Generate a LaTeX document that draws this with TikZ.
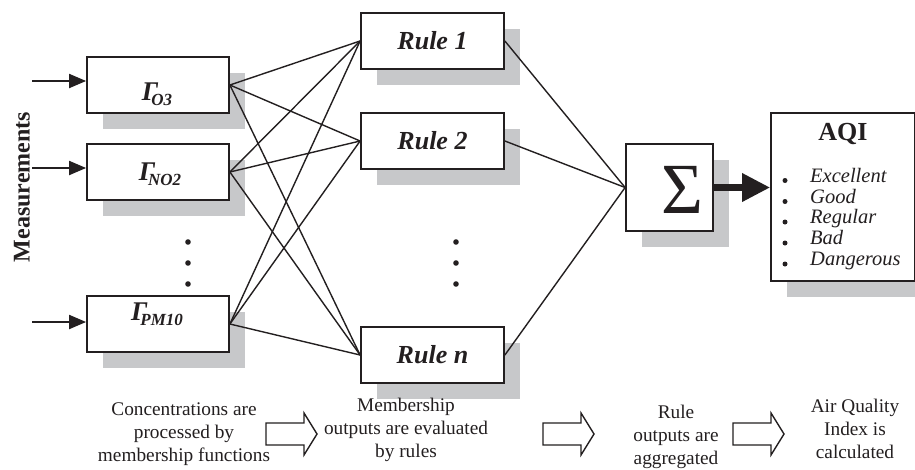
\documentclass[tikz,border=0pt]{standalone}
\usepackage{fontspec}
\setmainfont{Liberation Serif}
\usetikzlibrary{arrows.meta,calc,shadows}
\definecolor{ink}{RGB}{35,31,32}
\definecolor{shadowgray}{RGB}{199,200,202}
\newcommand{\GSub}[1]{{\fontsize{27pt}{27pt}\selectfont\bfseries\itshape Γ}\kern-7pt{\fontsize{17pt}{17pt}\selectfont\bfseries\itshape\raisebox{-5pt}{#1}}}
\tikzset{
  shadowed/.style={drop shadow={shadow xshift=16pt,shadow yshift=-16pt,fill=shadowgray,opacity=1}},
  gbox/.style={draw=ink,line width=1.8pt,fill=white,shadowed,minimum width=142pt,minimum height=56pt,inner sep=0pt},
  rbox/.style={gbox,minimum width=143pt,text=ink,font=\fontsize{26pt}{26pt}\selectfont\bfseries\itshape},
  sbox/.style={gbox,minimum width=87pt,minimum height=87pt},
  abox/.style={gbox,minimum width=144pt,minimum height=168pt},
  glabel/.style={anchor=base,inner sep=0pt,text=ink},
  conn/.style={draw=ink,line width=1.4pt},
  marrow/.style={draw=ink,line width=2pt,-{Triangle[length=17pt,width=14pt]}},
  bigarrow/.style={draw=ink,line width=6.5pt,-{Triangle[length=28pt,width=27pt]}},
  item/.style={anchor=base west,inner sep=0pt,text=ink,font=\fontsize{20.5pt}{20.5pt}\selectfont\itshape},
  caption/.style={align=center,text=ink,inner sep=0pt,font=\fontsize{19.3pt}{23pt}\selectfont},
  hollow/.pic={\draw[draw=ink,line width=1.4pt,line join=miter] (0,-11) -- (38,-11) -- (38,-21) -- (51,0) -- (38,21) -- (38,11) -- (0,11) -- cycle;}
}
\begin{document}
\begin{tikzpicture}[x=1pt,y=-1pt]
\useasboundingbox (0,0) rectangle (915,469);
\clip (0,0) rectangle (915,469);
\fill[white] (0,0) rectangle (915,469);

% Measurements label
\node[rotate=90,text=ink,font=\fontsize{24pt}{24pt}\selectfont\bfseries] (meas) at (22,187) {Measurements};

% membership boxes
\node[gbox] (g1) at (158,85) {};
\node[gbox] (g2) at (158,172) {};
\node[gbox] (g3) at (158,324) {};
\node[glabel] (l1) at (157,100) {\GSub{O3}};
\node[glabel] (l2) at (160,180) {\GSub{NO2}};
\node[glabel] (l3) at (157,320) {\GSub{PM10}};

% rule boxes
\node[rbox] (r1) at (432.5,41) {Rule 1};
\node[rbox] (r2) at (432.5,141) {Rule 2};
\node[rbox] (r3) at (432.5,355) {Rule n};

% sum box
\node[sbox] (s) at (669.5,187.5) {};
\node[glabel] (sig) at (682,213) {\fontsize{72pt}{72pt}\selectfont Σ};

% AQI box
\node[abox] (aqi) at (843,197) {};
\node[glabel] (aqit) at (843,140) {\fontsize{26pt}{26pt}\selectfont\bfseries AQI};
\foreach \t/\yy/\n in {Excellent/182/1,Good/203/2,Regular/223.5/3,Bad/244.5/4,Dangerous/265.5/5}{
  \fill[ink] (785,\yy-1.5) circle (2.5pt);
  \node[item] (i\n) at (810,\yy) {\t};
}

% dots
\foreach \yy in {242,263,284}{
  \fill[ink] (188,\yy) circle (2.8pt);
  \fill[ink] (456,\yy) circle (2.8pt);
}

% measurement arrows
\coordinate (m1) at (32,81);
\coordinate (m2) at (32,168);
\coordinate (m3) at (32,322);
\draw[marrow] (m1) -- (m1 -| g1.west);
\draw[marrow] (m2) -- (m2 -| g2.west);
\draw[marrow] (m3) -- (m3 -| g3.west);

% connections
\foreach \g in {g1,g2,g3}{
  \foreach \r in {r1,r2,r3}{
    \draw[conn] (\g.east) -- (\r.west);
  }
}
\foreach \r in {r1,r2,r3}{
  \draw[conn] (\r.east) -- (s.west);
}
\draw[bigarrow] (s.east) -- (s.east -| aqi.west);

% bottom captions
\node[caption] (c1) at (184,434) {Concentrations are\\processed by\\membership functions};
\node[caption] (c2) at (406,430) {Membership\\outputs are evaluated\\by rules};
\node[caption] (c3) at (676,437) {Rule\\outputs are\\aggregated};
\node[caption] (c4) at (855,429) {Air Quality\\Index is\\calculated};
\pic at (266,434) {hollow};
\pic at (543,434) {hollow};
\pic at (733,434) {hollow};
\end{tikzpicture}
\end{document}
